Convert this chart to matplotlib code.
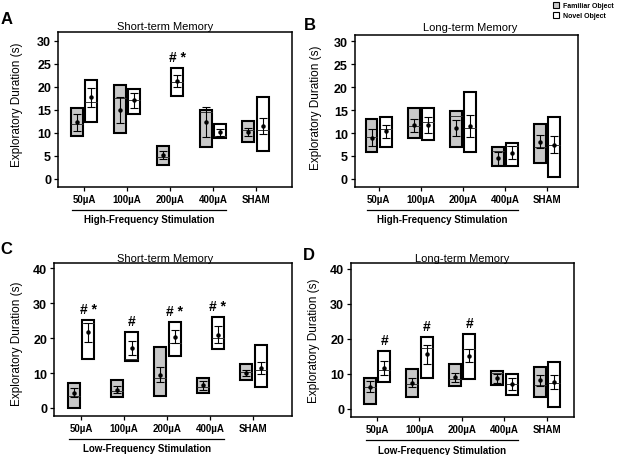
import numpy as np
import matplotlib
matplotlib.use("Agg")
from matplotlib import pyplot as plt
from matplotlib.patches import Patch

plt.rcParams['font.family'] = ['Liberation Sans', 'DejaVu Sans']

groups = ['50µA', '100µA', '200µA', '400µA', 'SHAM']

# panel A: short-term memory, high-frequency stimulation
a_fam_lo = [9.4, 10.0, 3.0, 7.0, 8.0]
a_fam_hi = [15.5, 20.5, 7.1, 15.0, 12.6]
a_fam_med = [11.9, 17.6, 4.8, 14.5, 10.6]
a_fam_mean = [12.3, 15.0, 5.2, 12.4, 10.2]
a_fam_sem = [1.8, 2.75, 0.8, 3.3, 0.8]
a_nov_lo = [12.4, 14.0, 18.1, 8.9, 6.0]
a_nov_hi = [21.5, 19.5, 24.0, 11.9, 17.9]
a_nov_med = [16.6, 17.1, 21.0, 9.4, 10.6]
a_nov_mean = [17.7, 17.1, 21.3, 10.1, 11.5]
a_nov_sem = [2.0, 1.6, 1.25, 0.7, 1.8]
a_marks = ['', '', '# *', '', '']

# panel B: long-term memory, high-frequency stimulation
b_fam_lo = [5.8, 8.9, 6.9, 2.9, 3.4]
b_fam_hi = [13.0, 15.4, 14.9, 6.9, 11.9]
b_fam_med = [9.1, 11.6, 13.8, 6.0, 6.9]
b_fam_mean = [9.0, 11.7, 11.1, 4.5, 8.1]
b_fam_sem = [1.9, 1.4, 1.85, 1.45, 1.4]
b_nov_lo = [6.9, 8.5, 5.8, 2.9, 0.4]
b_nov_hi = [13.4, 15.4, 19.0, 7.9, 13.4]
b_nov_med = [10.9, 12.5, 11.0, 7.1, 7.4]
b_nov_mean = [10.4, 11.7, 11.6, 5.7, 7.5]
b_nov_sem = [1.4, 1.75, 2.4, 1.4, 1.9]
b_marks = ['', '', '', '', '']

# panel C: short-term memory, low-frequency stimulation
c_fam_lo = [0.0, 3.0, 3.4, 4.4, 8.1]
c_fam_hi = [7.1, 8.1, 17.6, 8.6, 12.5]
c_fam_med = [3.3, 5.0, 8.6, 6.1, 10.3]
c_fam_mean = [4.4, 5.2, 9.5, 6.5, 10.0]
c_fam_sem = [1.4, 1.0, 2.1, 1.35, 0.9]
c_nov_lo = [14.0, 13.5, 15.0, 17.0, 5.9]
c_nov_hi = [25.1, 21.7, 24.6, 26.1, 18.0]
c_nov_med = [24.4, 14.0, 18.6, 20.0, 10.8]
c_nov_mean = [21.7, 17.2, 20.4, 21.0, 11.5]
c_nov_sem = [2.75, 2.0, 1.8, 2.4, 1.75]
c_marks = ['# *', '#', '# *', '# *', '']

# panel D: long-term memory, low-frequency stimulation
d_fam_lo = [1.5, 3.4, 6.4, 6.9, 3.5]
d_fam_hi = [8.9, 11.4, 12.9, 10.9, 11.9]
d_fam_med = [6.3, 7.1, 8.5, 10.2, 6.9]
d_fam_mean = [6.3, 7.5, 9.0, 8.7, 8.2]
d_fam_sem = [1.6, 1.4, 1.3, 1.3, 1.55]
d_nov_lo = [7.8, 8.9, 8.5, 4.0, 0.5]
d_nov_hi = [16.6, 20.5, 21.5, 9.9, 13.5]
d_nov_med = [11.1, 17.4, 17.0, 7.0, 7.5]
d_nov_mean = [11.6, 15.6, 15.2, 7.0, 7.7]
d_nov_sem = [1.95, 2.7, 1.95, 1.7, 2.05]
d_marks = ['#', '#', '#', '', '']

FAM_COL = '#c8c8c8'
W = 0.28
OFF = 0.17


def draw_panel(ax, fam, nov, marks, ylim, yticks, xlim, title, title_xy,
               stim, ylab_xy):
    x = np.arange(len(groups))
    for off, d, col in [(-OFF, fam, FAM_COL), (OFF, nov, 'white')]:
        lo, hi, med, mean, sem = [np.array(v) for v in d]
        ax.bar(x + off, hi - lo, bottom=lo, width=W, color=col,
               edgecolor='black', linewidth=1.5, zorder=2)
        ax.hlines(med, x + off - W / 2, x + off + W / 2, color='#333333',
                  lw=0.7, zorder=3)
        ax.errorbar(x + off, mean, yerr=sem, fmt='o', ms=2.2, color='black',
                    elinewidth=0.8, capsize=2.7, capthick=0.8, zorder=4)
    for i, m in enumerate(marks):
        if m:
            ax.annotate(m, (x[i] + OFF, nov[1][i]), xytext=(0, 8),
                        textcoords='offset points', ha='center', va='center',
                        fontsize=10, fontweight='bold')
    ax.set_xlim(*xlim)
    ax.set_ylim(*ylim)
    ax.set_yticks(yticks)
    ax.set_xticks(x)
    ax.set_xticklabels(groups, fontsize=7, fontweight='bold')
    for lab in ax.get_yticklabels():
        lab.set_fontsize(9)
        lab.set_fontweight('bold')
    ax.tick_params(direction='out', length=3, width=0.9, pad=2)
    for s in ax.spines.values():
        s.set_linewidth(1.1)
    ax.set_ylabel('Exploratory Duration (s)', fontsize=8.5)
    ax.yaxis.set_label_coords(*ylab_xy)
    ax.text(title_xy[0], title_xy[1], title, transform=ax.transAxes,
            ha='center', va='center', fontsize=8)
    tr = ax.get_xaxis_transform()
    ax.plot([-0.27, 3.31], [-0.15, -0.15], transform=tr, color='black',
            lw=0.9, clip_on=False)
    ax.text(1.52, -0.21, stim, transform=tr, ha='center', va='center',
            fontsize=7, fontweight='bold')


fig = plt.figure(figsize=(6.17, 4.56), dpi=100)

axA = fig.add_axes([0.094, 0.588, 0.379, 0.340])
axB = fig.add_axes([0.575, 0.588, 0.362, 0.333])
axC = fig.add_axes([0.0875, 0.0855, 0.386, 0.3355])
axD = fig.add_axes([0.569, 0.083, 0.3615, 0.338])

draw_panel(axA,
           (a_fam_lo, a_fam_hi, a_fam_med, a_fam_mean, a_fam_sem),
           (a_nov_lo, a_nov_hi, a_nov_med, a_nov_mean, a_nov_sem),
           a_marks, (-1.74, 31.96), range(0, 31, 5), (-0.605, 4.84),
           'Short-term Memory', (0.457, 1.035),
           'High-Frequency Stimulation', (-0.15, 0.535))
draw_panel(axB,
           (b_fam_lo, b_fam_hi, b_fam_med, b_fam_mean, b_fam_sem),
           (b_nov_lo, b_nov_hi, b_nov_med, b_nov_mean, b_nov_sem),
           b_marks, (-1.75, 31.4), range(0, 31, 5), (-0.57, 4.74),
           'Long-term Memory', (0.516, 1.056),
           'High-Frequency Stimulation', (-0.148, 0.53))
draw_panel(axC,
           (c_fam_lo, c_fam_hi, c_fam_med, c_fam_mean, c_fam_sem),
           (c_nov_lo, c_nov_hi, c_nov_med, c_nov_mean, c_nov_sem),
           c_marks, (-2.3, 41.5), range(0, 41, 10), (-0.63, 4.9),
           'Short-term Memory', (0.466, 1.036),
           'Low-Frequency Stimulation', (-0.13, 0.48))
draw_panel(axD,
           (d_fam_lo, d_fam_hi, d_fam_med, d_fam_mean, d_fam_sem),
           (d_nov_lo, d_nov_hi, d_nov_med, d_nov_mean, d_nov_sem),
           d_marks, (-2.4, 41.7), range(0, 41, 10), (-0.61, 4.64),
           'Long-term Memory', (0.50, 1.03),
           'Low-Frequency Stimulation', (-0.139, 0.5))

for lab, (px, py) in zip('ABCD', [(0.011, 0.958), (0.502, 0.944),
                                  (0.010, 0.452), (0.501, 0.439)]):
    fig.text(px, py, lab, ha='center', va='center', fontsize=12,
             fontweight='bold')

handles = [Patch(facecolor=FAM_COL, edgecolor='black', linewidth=0.8),
           Patch(facecolor='white', edgecolor='black', linewidth=0.8)]
fig.legend(handles, ['Familiar Object', 'Novel Object'], loc='upper right',
           bbox_to_anchor=(1.0, 1.0), frameon=False,
           prop={'size': 5, 'weight': 'bold'}, handlelength=0.9,
           handleheight=0.9, handletextpad=0.6, labelspacing=0.4,
           borderaxespad=0.2, borderpad=0.2)

fig.savefig('out.png', dpi=100)
